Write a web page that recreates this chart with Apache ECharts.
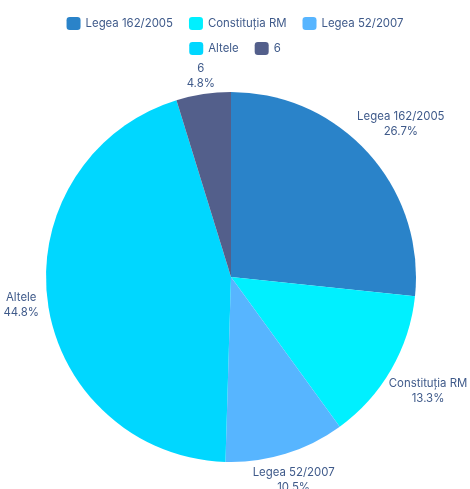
<!DOCTYPE html>
<html>
<head>
<meta charset="utf-8">
<script src="https://cdn.jsdelivr.net/npm/echarts@6/dist/echarts.min.js"></script>
<style>
  html, body { margin: 0; padding: 0; background: #fff; }
  #chart { width: 470px; height: 489px; }
</style>
</head>
<body>
<div id="chart"></div>
<script>
  // date
  var categories = ['Legea 162/2005', 'Constituția RM', 'Legea 52/2007', 'Altele', '6'];
  var counts = [28, 14, 11, 47, 5];
  var colors = ['#2a83c9', '#00f0ff', '#57b5ff', '#00d7ff', '#535f8b'];

  var cx = 231, cy = 277, R = 185;
  var textColor = '#3f5a8a';
  var fs = 11.4;

  var total = counts.reduce(function (a, b) { return a + b }, 0);

  // unghiul de mijloc al fiecarei felii (de la ora 12, in sens orar)
  function midAngle(i) {
    var before = 0;
    for (var k = 0; k < i; k++) before += counts[k];
    return (before + counts[i] / 2) / total * Math.PI * 2;
  }

  var legendBase = {
    left: 'center',
    itemWidth: 14,
    itemHeight: 13,
    itemGap: 16,
    textStyle: { color: textColor, fontSize: fs, fontFamily: 'Inter' }
  };

  var chart = echarts.init(document.getElementById('chart'));
  var option = {
    color: colors,
    textStyle: { fontFamily: 'Inter' },
    legend: [
      Object.assign({ data: categories.slice(0, 3), top: 12 }, legendBase),
      Object.assign({ data: categories.slice(3), top: 37 }, legendBase)
    ],
    series: [
      {
        type: 'pie',
        center: [cx, cy],
        radius: R,
        startAngle: 90,
        animation: false,
        label: {
          show: true,
          formatter: function (p) {
            return p.name + '\n' + (p.value / total * 100).toFixed(1) + '%';
          },
          color: textColor,
          fontSize: fs,
          lineHeight: 15,
          fontFamily: 'Inter',
          overflow: 'none',
          align: 'center'
        },
        labelLine: { show: false },
        labelLayout: function (params) {
          var a = midAngle(params.dataIndex);
          var dx = Math.sin(a), dy = -Math.cos(a);
          var w = params.labelRect.width, h = params.labelRect.height;
          var d = R + 1 + w / 2 * Math.abs(dx) + h / 2 * Math.abs(dy);
          return { x: cx + dx * d, y: cy + dy * d, align: 'center', verticalAlign: 'middle' };
        },
        data: categories.map(function (name, i) {
          return { name: name, value: counts[i] };
        })
      }
    ]
  };
  chart.setOption(option);
</script>
</body>
</html>
